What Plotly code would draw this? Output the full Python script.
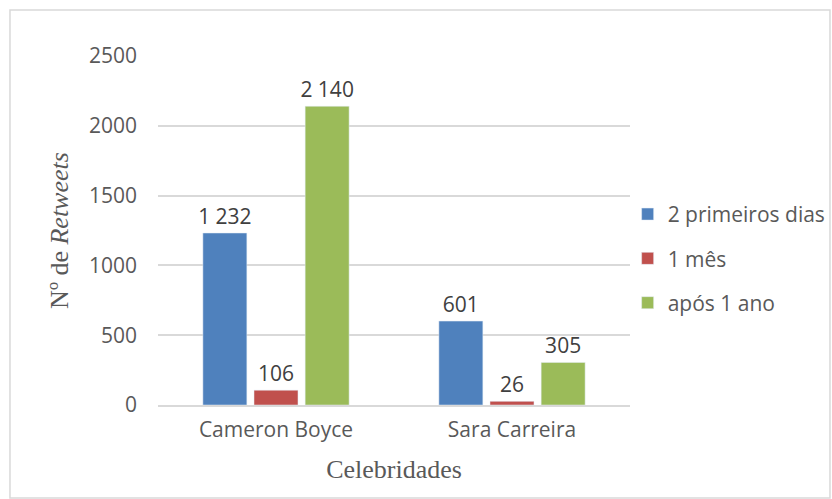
import plotly.graph_objects as go

CATEGORIAS = ["Cameron Boyce", "Sara Carreira"]
SERIES = ["2 primeiros dias", "1 mês", "após 1 ano"]
DOIS_DIAS = [1232, 601]
UM_MES = [106, 26]
APOS_ANO = [2140, 305]
Y_TICKS = [0, 500, 1000, 1500, 2000, 2500]

CORES = ["#4F81BD", "#C0504D", "#9BBB59"]
TEXT_COLOR = "#595959"
GRID_COLOR = "#D9D9D9"
FONT_SANS = "'Open Sans', sans-serif"
FONT_SERIF = "'Liberation Serif', 'Times New Roman', serif"


def fmt(v):
    return f"{v:,}".replace(",", " ")


fig = go.Figure()
for i, (nome, vals) in enumerate(zip(SERIES, [DOIS_DIAS, UM_MES, APOS_ANO])):
    fig.add_trace(go.Bar(
        name=nome,
        x=CATEGORIAS,
        y=vals,
        marker_color=CORES[i],
        text=[fmt(v) for v in vals],
        textposition="outside",
        constraintext="none",
        textfont=dict(size=21, color="#404040", family=FONT_SANS),
        cliponaxis=False,
        legendgroup=str(i),
    ))

fig.update_layout(
    width=832,
    height=499,
    barmode="group",
    bargap=0.35,
    bargroupgap=0.14,
    plot_bgcolor="white",
    paper_bgcolor="white",
    font=dict(family=FONT_SANS, color=TEXT_COLOR, size=21),
    margin=dict(l=158, r=202, t=56, b=94, autoexpand=False),
    xaxis=dict(
        showline=True, linecolor=GRID_COLOR, linewidth=1.5,
        ticks="", ticklabelstandoff=5, tickfont=dict(size=21, color=TEXT_COLOR),
        title=dict(text="Celebridades", standoff=18,
                   font=dict(family=FONT_SERIF, size=26, color=TEXT_COLOR)),
    ),
    yaxis=dict(
        range=[0, 2500], tickvals=Y_TICKS, ticktext=[str(t) for t in Y_TICKS],
        showgrid=True, gridcolor=GRID_COLOR, gridwidth=1.5, zeroline=False,
        ticks="", ticklabelstandoff=20,
        tickfont=dict(size=21, color=TEXT_COLOR),
        title=dict(text="Nº de <i>Retweets</i>", standoff=12,
                   font=dict(family=FONT_SERIF, size=26, color=TEXT_COLOR)),
    ),
    legend=dict(
        x=0.995, y=0.42, xanchor="left", yanchor="middle",
        font=dict(size=21, color=TEXT_COLOR),
        bgcolor="rgba(0,0,0,0)",
        tracegroupgap=14, traceorder="grouped",
        itemwidth=30,
    ),
    shapes=[dict(
        type="rect", xref="paper", yref="paper",
        x0=-0.3136, x1=1.4237, y0=-0.2665, y1=1.1318,
        line=dict(color=GRID_COLOR, width=1.5), layer="below",
    )],
)

fig.write_html("out.html", config={"displayModeBar": False},
               post_script="document.body.style.margin='0';")
